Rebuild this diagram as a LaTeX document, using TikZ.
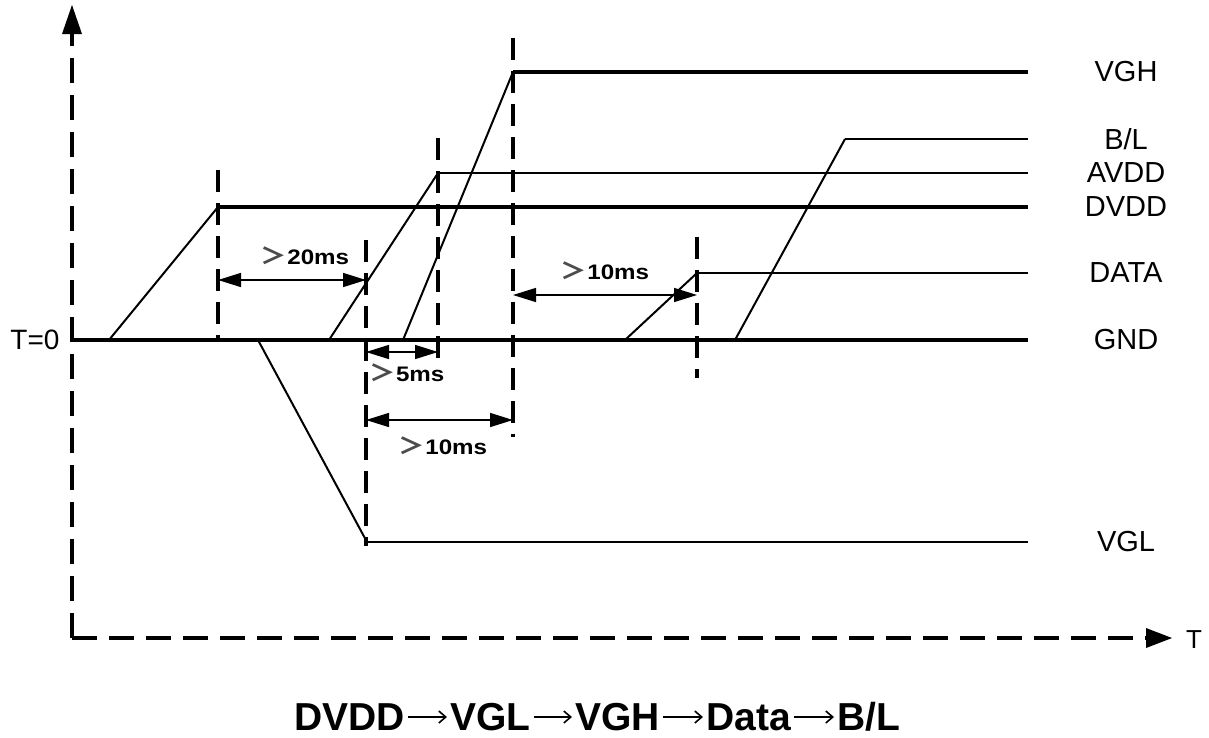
\documentclass[tikz,border=0pt]{standalone}
\usepackage{fontspec}
\setmainfont{Liberation Sans}
\newfontfamily\cjkf{Noto Sans CJK SC}
\usetikzlibrary{arrows.meta}
\tikzset{
  axis/.style={line width=3.8pt, dash pattern=on 25pt off 12pt},
  marker/.style={line width=3.3pt, dash pattern=on 22pt off 11pt},
  lvlthick/.style={line width=4pt},
  lvlmid/.style={line width=2.5pt},
  ramp/.style={line width=2pt},
  meas/.style={line width=1.5pt, {Triangle[length=23pt,width=14pt]}-{Triangle[length=23pt,width=14pt]}},
  siglabel/.style={font=\fontsize{29}{31}\selectfont, anchor=center},
  mslabel/.style={font=\fontsize{21}{24}\selectfont\bfseries, anchor=center, xscale=1.15, transform shape},
  titleword/.style={font=\fontsize{39}{41}\selectfont\bfseries, anchor=base west, inner sep=0pt},
  titlearrow/.style={line width=1.6pt, -{Straight Barb[length=7pt,width=12pt,line width=1.6pt]}}
}
\newcommand{\gtsym}{{\cjkf\fontsize{23}{23}\selectfont\color{black!70}＞}}
\begin{document}
\begin{tikzpicture}[x=1pt,y=-1pt]
\useasboundingbox (0,0) rectangle (1209,737);
% axes
\coordinate (origin) at (72,638);
\coordinate (ytop) at (72,5);
\coordinate (xend) at (1172,638);
\draw[axis] (origin) -- (72,34);
\fill (ytop) -- (62,34) -- (82,34) -- cycle;
\draw[axis] (origin) -- (1148,638);
\fill (xend) -- (1146,628) -- (1146,648) -- cycle;
\node[font=\fontsize{26}{28}\selectfont] (tlab) at (1194,640) {T};
\node[font=\fontsize{28}{30}\selectfont] (t0) at (35,340) {T=0};
% GND
\coordinate (g0) at (72,340);
\coordinate (g1) at (1028,340);
\draw[lvlthick] (g0) -- (g1);
% DVDD
\coordinate (d0) at (109,340);
\coordinate (d1) at (218,207);
\coordinate (d2) at (1028,207);
\draw[ramp] (d0) -- (d1);
\draw[lvlthick] (d1) -- (d2);
% VGL
\coordinate (vl0) at (258,340);
\coordinate (vl1) at (367,542);
\coordinate (vl2) at (1028,542);
\draw[ramp] (vl0) -- (vl1);
\draw[lvlmid] (vl1) -- (vl2);
% AVDD
\coordinate (a0) at (329,340);
\coordinate (a1) at (438,173);
\coordinate (a2) at (1028,173);
\draw[ramp] (a0) -- (a1);
\draw[lvlmid] (a1) -- (a2);
% VGH
\coordinate (h0) at (403,340);
\coordinate (h1) at (513,72);
\coordinate (h2) at (1028,72);
\draw[ramp] (h0) -- (h1);
\draw[lvlthick] (h1) -- (h2);
% DATA
\coordinate (da0) at (625,340);
\coordinate (da1) at (697,273);
\coordinate (da2) at (1028,273);
\draw[ramp] (da0) -- (da1);
\draw[lvlmid] (da1) -- (da2);
% B/L
\coordinate (b0) at (735,340);
\coordinate (b1) at (845,139);
\coordinate (b2) at (1028,139);
\draw[ramp] (b0) -- (b1);
\draw[lvlmid] (b1) -- (b2);
% labels
\node[siglabel] (lvgh) at (1126,72) {VGH};
\node[siglabel] (lbl) at (1126,139) {B/L};
\node[siglabel] (lavdd) at (1126,173) {AVDD};
\node[siglabel] (ldvdd) at (1126,207) {DVDD};
\node[siglabel] (ldata) at (1126,273) {DATA};
\node[siglabel] (lgnd) at (1126,340) {GND};
\node[siglabel] (lvgl) at (1126,542) {VGL};
% dashed markers
\coordinate (m1t) at (218,170); \coordinate (m1b) at (218,342);
\coordinate (m2t) at (366,240); \coordinate (m2b) at (366,546);
\coordinate (m3t) at (438,138); \coordinate (m3b) at (438,362);
\coordinate (m4t) at (513,38);  \coordinate (m4b) at (513,437);
\coordinate (m5t) at (697,237); \coordinate (m5b) at (697,378);
\draw[marker] (m1t) -- (m1b);
\draw[marker] (m2t) -- (m2b);
\draw[marker] (m3t) -- (m3b);
\draw[marker] (m4t) -- (m4b);
\draw[marker] (m5t) -- (m5b);
% measurements
\coordinate (p20a) at (218,280); \coordinate (p20b) at (366,280);
\draw[meas] (p20a) -- (p20b);
\node[mslabel] (l20) at (305,256) {\gtsym 20ms};
\coordinate (p5a) at (366,352); \coordinate (p5b) at (438,352);
\draw[meas] (p5a) -- (p5b);
\node[mslabel] (l5) at (407,373) {\gtsym 5ms};
\coordinate (p10a) at (366,420); \coordinate (p10b) at (513,420);
\draw[meas] (p10a) -- (p10b);
\node[mslabel] (l10a) at (443,446) {\gtsym 10ms};
\coordinate (p10c) at (513,295); \coordinate (p10d) at (697,295);
\draw[meas] (p10c) -- (p10d);
\node[mslabel] (l10b) at (605,271) {\gtsym 10ms};
% title
\node[titleword] (w1) at (294,730) {DVDD};
\node[titleword] (w2) at (450,730) {VGL};
\node[titleword] (w3) at (575,730) {VGH};
\node[titleword] (w4) at (706,730) {Data};
\node[titleword] (w5) at (837,730) {B/L};
\draw[titlearrow] ([xshift=3pt,yshift=13pt]w1.base east) -- ([xshift=-3pt,yshift=13pt]w2.base west);
\draw[titlearrow] ([xshift=3pt,yshift=13pt]w2.base east) -- ([xshift=-3pt,yshift=13pt]w3.base west);
\draw[titlearrow] ([xshift=3pt,yshift=13pt]w3.base east) -- ([xshift=-3pt,yshift=13pt]w4.base west);
\draw[titlearrow] ([xshift=3pt,yshift=13pt]w4.base east) -- ([xshift=-3pt,yshift=13pt]w5.base west);
\end{tikzpicture}
\end{document}
